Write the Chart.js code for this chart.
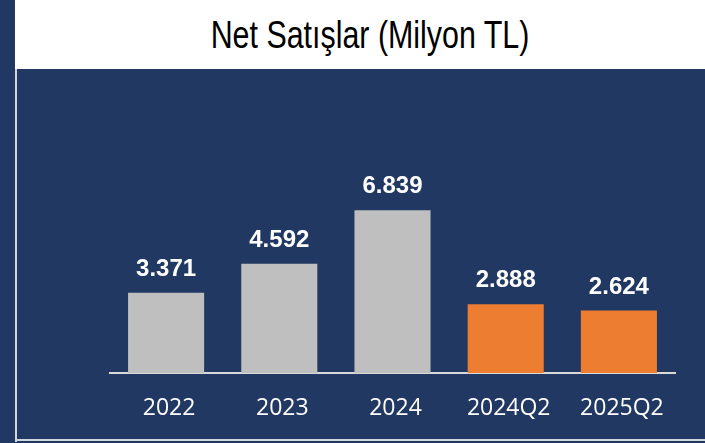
<!DOCTYPE html>
<html>
<head>
<meta charset="utf-8">
<script src="https://cdn.jsdelivr.net/npm/chart.js@4.4.0/dist/chart.umd.min.js"></script>
<style>
  html, body { margin: 0; padding: 0; }
  body { width: 705px; height: 443px; overflow: hidden; background: #213863; position: relative; }
  #header { position: absolute; left: 15px; top: 0; width: 690px; height: 69px; background: #ffffff; }
  #title { position: absolute; left: 0; top: 16px; width: 740px; text-align: center;
           font-family: "Liberation Sans", Arial, sans-serif;
           font-size: 38px; line-height: 38px; color: #000; white-space: nowrap;
           transform: scaleX(0.8); transform-origin: 370px 0; }
  #vline { position: absolute; left: 15px; top: 69px; width: 2px; height: 373px; background: #d4d6dc; }
  #hline { position: absolute; left: 15px; top: 439px; width: 690px; height: 2px; background: #d4d6dc; }
  #wrap { position: absolute; left: 0; top: 0; width: 705px; height: 443px; }
</style>
</head>
<body>
<div id="header"></div>
<div id="title">Net Satışlar (Milyon TL)</div>
<div id="vline"></div>
<div id="hline"></div>
<div id="wrap"><canvas id="c" width="705" height="443"></canvas></div>
<script>
const categories = ["2022", "2023", "2024", "2024Q2", "2025Q2"];
const netSales = [3371, 4592, 6839, 2888, 2624];
const barColors = ["#bfbfbf", "#bfbfbf", "#bfbfbf", "#ed7d31", "#ed7d31"];

function fmtTR(v) {
  return String(v).replace(/\B(?=(\d{3})+(?!\d))/g, ".");
}

const valueLabels = {
  id: "valueLabels",
  afterDatasetsDraw(chart) {
    const ctx = chart.ctx;
    const meta = chart.getDatasetMeta(0);
    ctx.save();
    ctx.fillStyle = "#ffffff";
    ctx.font = "bold 24px 'Liberation Sans', Arial, sans-serif";
    ctx.textAlign = "center";
    ctx.textBaseline = "alphabetic";
    meta.data.forEach((bar, i) => {
      ctx.fillText(fmtTR(chart.data.datasets[0].data[i]), bar.x, bar.y - 17);
    });
    ctx.restore();
  }
};

new Chart(document.getElementById("c"), {
  type: "bar",
  data: {
    labels: categories,
    datasets: [{
      data: netSales,
      backgroundColor: barColors,
      borderWidth: 0,
      barPercentage: 0.672,
      categoryPercentage: 1.0
    }]
  },
  options: {
    responsive: false,
    animation: false,
    devicePixelRatio: 1,
    layout: { padding: { left: 109.5, right: 29.5, top: 135, bottom: -1.7 } },
    plugins: { legend: { display: false }, tooltip: { enabled: false }, title: { display: false } },
    scales: {
      y: { display: false, min: 0, max: 10000 },
      x: {
        grid: { display: false, drawTicks: false, tickLength: 0 },
        border: { display: true, color: "#d9d9d9", width: 2 },
        ticks: {
          color: "#ffffff",
          padding: 22,
          labelOffset: 3,
          font: { family: "'Open Sans', sans-serif", size: 23 }
        }
      }
    }
  },
  plugins: [valueLabels]
});
</script>
</body>
</html>
